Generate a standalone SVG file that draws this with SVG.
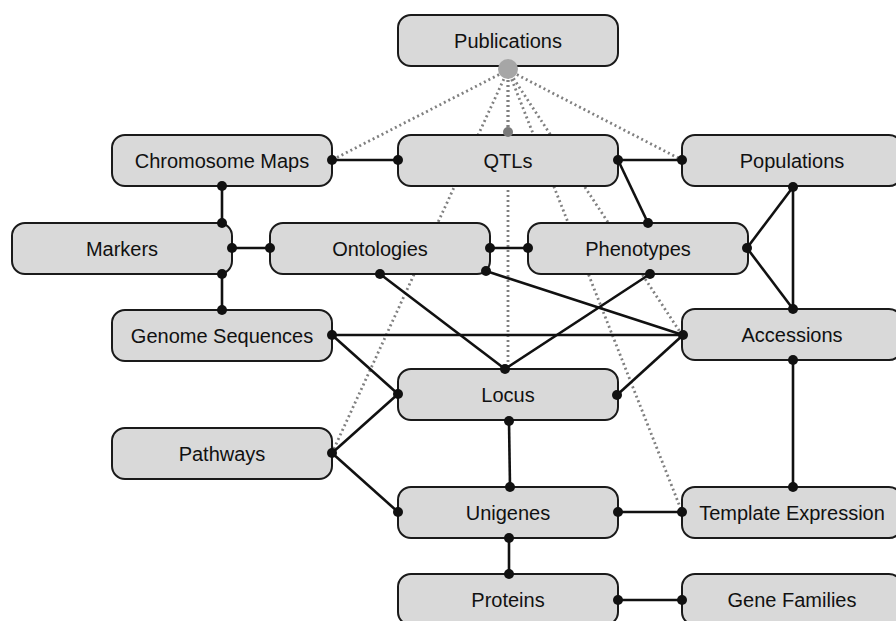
<svg xmlns="http://www.w3.org/2000/svg" width="896" height="621" viewBox="0 0 896 621">
<style>
.node rect{fill:#d9d9d9;stroke:#1a1a1a;stroke-width:2}
.node text{font-family:"Liberation Sans",Arial,sans-serif;font-size:20px;fill:#111;text-anchor:middle}
.dotted line{stroke:#808080;stroke-width:2.8;stroke-dasharray:2 3;fill:none}
.solid line{stroke:#111;stroke-width:2.6;fill:none}
.solid circle{fill:#111}
.solid circle.pubdot{fill:#a6a6a6}
.solid circle.qdot{fill:#7a7a7a}
</style>
<rect width="896" height="621" fill="#fff"/>
<g id="pub-links" class="dotted">
<line x1="508" y1="70" x2="332" y2="160"/>
<line x1="508" y1="70" x2="508" y2="132"/>
<line x1="508" y1="70" x2="682" y2="160"/>
<line x1="508" y1="70" x2="332" y2="453"/>
<line x1="508" y1="70" x2="508" y2="369"/>
<line x1="508" y1="70" x2="682" y2="335"/>
<line x1="508" y1="70" x2="682" y2="512"/>
</g>
<g id="n-publications" class="node"><rect x="398" y="15" width="220" height="51" rx="13"/><text x="508" y="48">Publications</text></g>
<g id="n-qtls" class="node"><rect x="398" y="135" width="220" height="51" rx="13"/><text x="508" y="168">QTLs</text></g>
<g id="n-chromosome-maps" class="node"><rect x="112" y="135" width="220" height="51" rx="13"/><text x="222" y="168">Chromosome Maps</text></g>
<g id="n-populations" class="node"><rect x="682" y="135" width="220" height="51" rx="13"/><text x="792" y="168">Populations</text></g>
<g id="n-markers" class="node"><rect x="12" y="223" width="220" height="51" rx="13"/><text x="122" y="256">Markers</text></g>
<g id="n-ontologies" class="node"><rect x="270" y="223" width="220" height="51" rx="13"/><text x="380" y="256">Ontologies</text></g>
<g id="n-phenotypes" class="node"><rect x="528" y="223" width="220" height="51" rx="13"/><text x="638" y="256">Phenotypes</text></g>
<g id="n-genome-sequences" class="node"><rect x="112" y="310" width="220" height="51" rx="13"/><text x="222" y="343">Genome Sequences</text></g>
<g id="n-accessions" class="node"><rect x="682" y="309" width="220" height="51" rx="13"/><text x="792" y="342">Accessions</text></g>
<g id="n-locus" class="node"><rect x="398" y="369" width="220" height="51" rx="13"/><text x="508" y="402">Locus</text></g>
<g id="n-pathways" class="node"><rect x="112" y="428" width="220" height="51" rx="13"/><text x="222" y="461">Pathways</text></g>
<g id="n-unigenes" class="node"><rect x="398" y="487" width="220" height="51" rx="13"/><text x="508" y="520">Unigenes</text></g>
<g id="n-template-expression" class="node"><rect x="682" y="487" width="220" height="51" rx="13"/><text x="792" y="520">Template Expression</text></g>
<g id="n-proteins" class="node"><rect x="398" y="574" width="220" height="51" rx="13"/><text x="508" y="607">Proteins</text></g>
<g id="n-gene-families" class="node"><rect x="682" y="574" width="220" height="51" rx="13"/><text x="792" y="607">Gene Families</text></g>
<g id="connectors" class="solid">
<line x1="332" y1="160" x2="398" y2="160"/>
<line x1="222" y1="186" x2="222" y2="223"/>
<line x1="232" y1="248" x2="270" y2="248"/>
<line x1="222" y1="274" x2="222" y2="310"/>
<line x1="618" y1="160" x2="682" y2="160"/>
<line x1="618" y1="160" x2="648" y2="223"/>
<line x1="490" y1="248" x2="528" y2="248"/>
<line x1="486" y1="271" x2="683" y2="335"/>
<line x1="380" y1="274" x2="505" y2="369"/>
<line x1="650" y1="274" x2="505" y2="369"/>
<line x1="747" y1="248" x2="793" y2="187"/>
<line x1="747" y1="248" x2="793" y2="309"/>
<line x1="793" y1="187" x2="793" y2="309"/>
<line x1="332" y1="335" x2="683" y2="335"/>
<line x1="332" y1="335" x2="398" y2="394"/>
<line x1="617" y1="395" x2="683" y2="335"/>
<line x1="332" y1="453" x2="398" y2="394"/>
<line x1="332" y1="453" x2="398" y2="512"/>
<line x1="509" y1="421" x2="510" y2="487"/>
<line x1="618" y1="512" x2="682" y2="512"/>
<line x1="793" y1="360" x2="793" y2="487"/>
<line x1="509" y1="538" x2="509" y2="574"/>
<line x1="618" y1="600" x2="682" y2="600"/>
<circle cx="332" cy="160" r="5"/><circle cx="398" cy="160" r="5"/>
<circle cx="222" cy="186" r="5"/><circle cx="222" cy="223" r="5"/>
<circle cx="232" cy="248" r="5"/><circle cx="270" cy="248" r="5"/>
<circle cx="222" cy="274" r="5"/><circle cx="222" cy="310" r="5"/>
<circle cx="618" cy="160" r="5"/><circle cx="682" cy="160" r="5"/>
<circle cx="648" cy="223" r="5"/>
<circle cx="490" cy="248" r="5"/><circle cx="528" cy="248" r="5"/>
<circle cx="486" cy="271" r="5"/><circle cx="683" cy="335" r="5"/>
<circle cx="380" cy="274" r="5"/><circle cx="505" cy="369" r="5"/>
<circle cx="650" cy="274" r="5"/>
<circle cx="747" cy="248" r="5"/><circle cx="793" cy="187" r="5"/><circle cx="793" cy="309" r="5"/>
<circle cx="332" cy="335" r="5"/><circle cx="398" cy="394" r="5"/>
<circle cx="617" cy="395" r="5"/>
<circle cx="332" cy="453" r="5"/><circle cx="398" cy="512" r="5"/>
<circle cx="509" cy="421" r="5"/><circle cx="510" cy="487" r="5"/>
<circle cx="618" cy="512" r="5"/><circle cx="682" cy="512" r="5"/>
<circle cx="793" cy="360" r="5"/><circle cx="793" cy="487" r="5"/>
<circle cx="509" cy="538" r="5"/><circle cx="509" cy="574" r="5"/>
<circle cx="618" cy="600" r="5"/><circle cx="682" cy="600" r="5"/>
<circle class="qdot" cx="508" cy="132" r="5"/>
<circle class="pubdot" cx="508" cy="69" r="10"/>
</g>
</svg>
